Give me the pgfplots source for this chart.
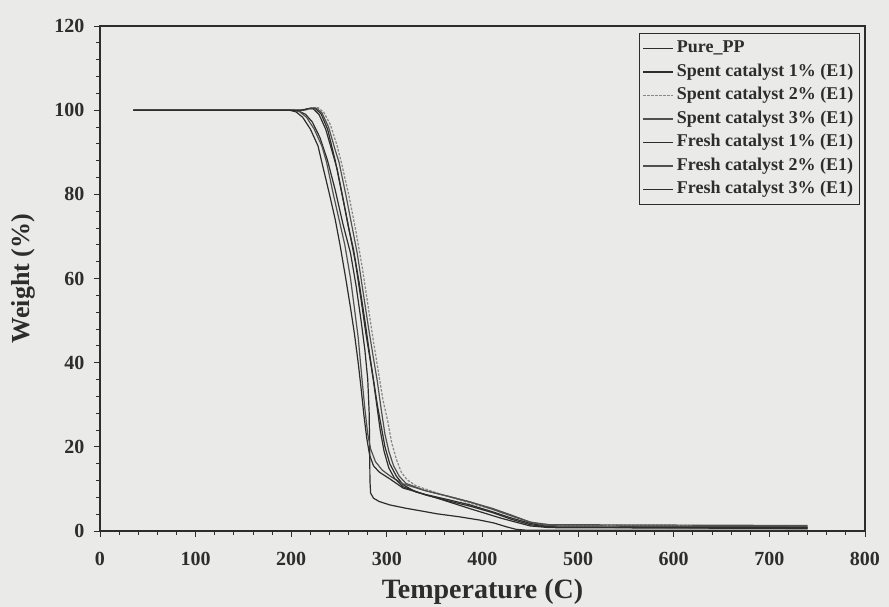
\documentclass[border=0pt]{standalone}
\usepackage{fontspec}
\setmainfont{Liberation Serif}
\usepackage{pgfplots}
\pgfplotsset{compat=1.18}
\definecolor{bg}{RGB}{234,234,232}
\definecolor{cdark}{RGB}{45,45,45}
\definecolor{cmid}{RGB}{80,80,80}
\definecolor{clight}{RGB}{135,135,135}
\begin{document}
\begin{tikzpicture}
\fill[bg] (-100pt,-76pt) rectangle (789pt,531pt);
\path[use as bounding box] (-100pt,-76pt) rectangle (789pt,531pt);
\begin{axis}[
  at={(0pt,0pt)}, anchor=south west,
  scale only axis, width=765pt, height=505pt,
  xmin=0, xmax=800, ymin=0, ymax=120,
  xtick={0,100,...,800}, ytick={0,20,...,120},
  minor x tick num=4, minor y tick num=4,
  xtick pos=bottom, ytick pos=left,
  tick align=outside,
  major tick length=6pt, minor tick length=4pt,
  axis line style={cdark, line width=1.1pt},
  every tick/.style={cdark, line width=0.9pt},
  /pgf/number format/assume math mode=true,
  ticklabel style={font=\bfseries\fontsize{20}{20}\selectfont, text=cdark},
  xticklabel style={yshift=-12pt},
  yticklabel style={xshift=-6pt},
  xlabel={\bfseries Temperature (C)},
  ylabel={\bfseries Weight (\%)},
  xlabel style={font=\fontsize{28}{28}\selectfont, text=cdark, at={(axis description cs:0.5,-0.12)}, anchor=center},
  ylabel style={font=\fontsize{26}{26}\selectfont, text=cdark, at={(axis description cs:-0.1,0.5)}, anchor=center},
  legend style={at={(rel axis cs:0.9935,0.986)}, anchor=north east, fill=none, draw=cdark, line width=1.2pt,
    font=\bfseries\fontsize{18}{20}\selectfont, text=cdark, inner sep=3pt, row sep=0pt, cells={anchor=west},
    nodes={text height=13pt, text depth=4.5pt, inner sep=3pt}},
  legend image code/.code={\draw[#1] (0pt,0pt) -- (30pt,0pt);},
  every axis plot/.append style={line width=1.2pt, line join=round},
]
% Pure_PP
\addplot[cdark] coordinates {(35,100)(200,100)(208,99.8)(215,99)(222,97.2)(230,93.5)(238,88)(246,81)(254,73)(262,66)(268,58)(273,50)(277,43)(280,36)(281.5,28)(282,20)(282.3,12)(283,9)(286,7.8)(292,7)(303,6.2)(320,5.4)(340,4.6)(352,4.1)(375,3.4)(397,2.6)(412,1.9)(425,1)(435,0.4)(445,0.2)(740,0.2)};
% Spent 1%
\addplot[cdark] coordinates {(35,100)(212,100)(219,100.4)(225,100.4)(231,99.2)(238,95.5)(246,88)(254,79)(260,72)(265,67)(271,59)(277,50)(282,42)(286,36)(290,30)(294,25)(298,20)(303,16)(310,13)(317,11)(330,9.3)(350,8)(387,5.3)(420,3)(450,1.2)(470,0.8)(740,0.6)};
% Spent 2%
\addplot[clight, dash pattern=on 2.5pt off 1.5pt] coordinates {(35,100)(215,100)(222,100.6)(228,100.6)(234,99.5)(241,96.5)(248,91.5)(253,87)(260,80)(267,72)(274,63)(280,54)(286,45)(291,38)(296,31)(301,26)(305,21)(310,17)(315,14)(321,12.2)(330,10.8)(350,9.2)(387,6.6)(410,5.2)(430,3.6)(450,2)(470,1.4)(740,1.2)};
% Spent 3%
\addplot[cmid] coordinates {(35,100)(213,100)(220,100.5)(226,100.5)(232,99.4)(239,96)(246,90.5)(250,87.6)(257,80)(263,73)(269,66)(275,57)(281,48)(286,41)(290,35.6)(294,29)(298,23)(302,19)(307,15.5)(313,13)(320,11.3)(340,9.6)(365,8.2)(387,6.9)(410,5.4)(430,3.8)(450,2.1)(470,1.5)(740,1.3)};
% Fresh 1%
\addplot[cdark] coordinates {(35,100)(198,100)(205,99.6)(212,98.3)(220,95.5)(228,91.5)(232,87.6)(240,80)(246,74)(251,68)(257,60)(262,53)(266,47)(270,40)(273,34)(276,27.5)(279,22)(282,18)(286,15.5)(292,14)(303,12.4)(317,10.2)(340,8.7)(365,7.4)(387,6.2)(410,4.6)(430,3.1)(450,1.8)(465,1.2)(480,0.9)(740,0.7)};
% Fresh 2%
\addplot[cmid] coordinates {(35,100)(202,100)(209,99.6)(216,98.3)(224,95.5)(232,91.5)(237,87.6)(244,80)(250,74)(256,68)(262,60)(266,53)(270,46)(274,36)(277,29)(280,23)(283,19.5)(288,16.5)(295,14.5)(305,12.8)(317,11.2)(340,9.6)(365,8.2)(387,6.9)(410,5.2)(430,3.6)(450,2.1)(465,1.4)(480,1.2)(740,1.0)};
% Fresh 3%
\addplot[cdark] coordinates {(35,100)(210,100)(217,100.3)(223,100.3)(229,99)(236,95.5)(243,90)(248,86)(255,78)(261,71)(267,64)(273,55)(278,47)(283,40)(286,35.6)(290,29)(293,24)(297,19)(302,15)(308,12.5)(317,10.5)(340,8.6)(365,7.1)(387,5.9)(410,4.4)(430,2.8)(450,1.5)(470,0.9)(740,0.8)};
\legend{Pure\_PP, Spent catalyst 1\% (E1), Spent catalyst 2\% (E1), Spent catalyst 3\% (E1), Fresh catalyst 1\% (E1), Fresh catalyst 2\% (E1), Fresh catalyst 3\% (E1)}
\end{axis}
\end{tikzpicture}
\end{document}
